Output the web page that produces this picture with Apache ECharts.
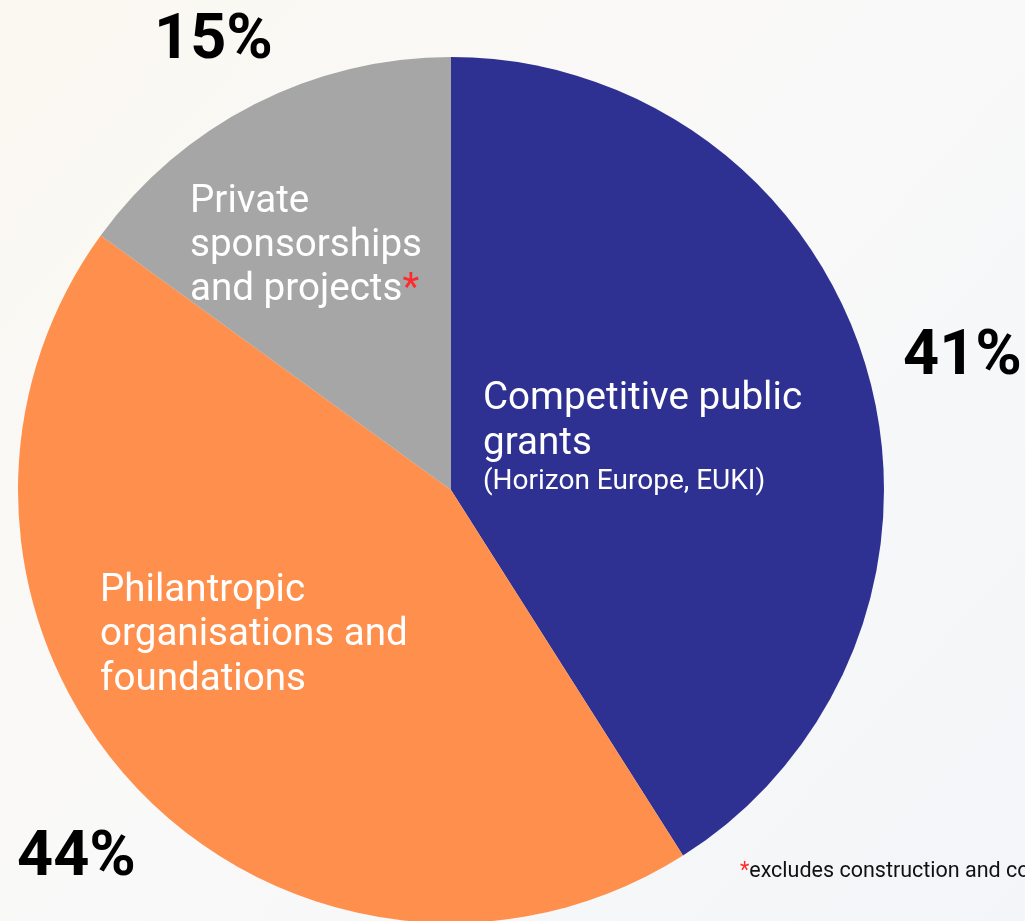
<!DOCTYPE html>
<html><head><meta charset="utf-8">
<script src="https://cdn.jsdelivr.net/npm/echarts@6/dist/echarts.min.js"></script>
<style>html,body{margin:0;padding:0;background:#f8f8f8;}#c{width:1025px;height:921px;}</style>
</head><body><div id="c"></div>
<script>
const categories = ['Competitive public grants', 'Philantropic organisations and foundations', 'Private sponsorships and projects'];
const values = [41, 44, 15];
const colors = ['#2e3192', '#fe8f4c', '#a6a6a6'];
const footnote = 'excludes construction and consulting';

const chart = echarts.init(document.getElementById('c'));
const F = 'Roboto, "Open Sans", sans-serif';
const pct = i => values[i] + '%';
const LF = '38.6px ' + F;

chart.setOption({
  backgroundColor: {
    type: 'linear', x: 0, y: 0, x2: 1, y2: 1,
    colorStops: [{offset: 0, color: '#fbf8f1'}, {offset: 0.5, color: '#f9f9f9'}, {offset: 1, color: '#f3f5f8'}]
  },
  animation: false,
  series: [{
    type: 'pie',
    center: [451, 490],
    radius: 433,
    startAngle: 90,
    clockwise: true,
    label: {show: false},
    labelLine: {show: false},
    emphasis: {disabled: true},
    itemStyle: {borderWidth: 0},
    data: categories.map((c, i) => ({name: c, value: values[i], itemStyle: {color: colors[i]}}))
  }],
  graphic: {
    elements: [
    {type: 'text', z: 100, left: 154, top: 11, style: {text: pct(2), font: 'bold 63px ' + F, fill: '#000'}},
    {type: 'text', z: 100, left: 903, top: 327, style: {text: pct(0), font: 'bold 63px ' + F, fill: '#000'}},
    {type: 'text', z: 100, left: 17, top: 828, style: {text: pct(1), font: 'bold 63px ' + F, fill: '#000'}},
    {type: 'text', z: 100, left: 190, top: 180, style: {
      text: 'Private\nsponsorships\nand projects{r|*}',
      font: LF, fill: '#fff', lineHeight: 44,
      rich: {r: {fill: '#ff2a2a', font: LF, lineHeight: 44}}
    }},
    {type: 'text', z: 100, left: 483, top: 377, style: {
      text: 'Competitive public\ngrants\n{s|(Horizon Europe, EUKI)}',
      font: LF, fill: '#fff', lineHeight: 45,
      rich: {s: {fill: '#fff', font: '28px ' + F, lineHeight: 30}}
    }},
    {type: 'text', z: 100, left: 100, top: 569, style: {
      text: 'Philantropic\norganisations and\nfoundations',
      font: LF, fill: '#fff', lineHeight: 44.5
    }},
    {type: 'text', z: 100, left: 740, top: 861, style: {
      text: '{r|*}' + footnote,
      font: '21.5px ' + F, fill: '#111',
      rich: {r: {fill: '#ff2a2a', font: '21.5px ' + F}}
    }}
    ]
  }
});
</script></body></html>
